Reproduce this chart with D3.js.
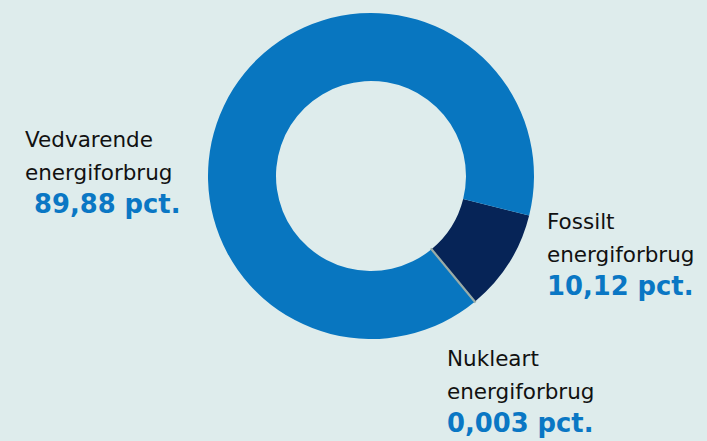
<!DOCTYPE html>
<html>
<head>
<meta charset="utf-8">
<script src="https://cdn.jsdelivr.net/npm/d3@7"></script>
<style>
  html, body { margin: 0; padding: 0; background: #deecec; }
  svg { display: block; }
</style>
</head>
<body>
<div id="chart"></div>
<script>
// Data
const categories = ["Fossilt energiforbrug", "Nukleart energiforbrug", "Vedvarende energiforbrug"];
const labelLines = [["Fossilt", "energiforbrug"], ["Nukleart", "energiforbrug"], ["Vedvarende", "energiforbrug"]];
const values = [10.12, 0.003, 89.88];
const valueLabels = ["10,12 pct.", "0,003 pct.", "89,88 pct."];
const colors = ["#062457", "#9aaca7", "#0876c0"];

const width = 707;
const height = 441;
const cx = 371;
const cy = 176;
const outerRadius = 163;
const innerRadius = 95;

const svg = d3.create("svg")
    .attr("width", width)
    .attr("height", height);

svg.append("rect")
    .attr("width", width)
    .attr("height", height)
    .attr("fill", "#deecec");

// Pie, starting at the fossil slice on the right
const pie = d3.pie()
    .sort(null)
    .value(d => d)
    .startAngle(104 * Math.PI / 180)
    .endAngle(104 * Math.PI / 180 + 2 * Math.PI);

const arc = d3.arc()
    .innerRadius(innerRadius)
    .outerRadius(outerRadius);

const arcs = pie(values);

const g = svg.append("g")
    .attr("transform", `translate(${cx},${cy})`);

// Big slices first, the tiny nuclear one on top so its stroke shows
g.selectAll("path")
    .data(arcs.map((a, i) => ({ a, i })).sort((p, q) => (p.i === 1) - (q.i === 1)))
    .enter()
    .append("path")
    .attr("d", d => arc(d.a))
    .attr("fill", d => colors[d.i])
    .attr("stroke", d => d.i === 1 ? colors[1] : "none")
    .attr("stroke-width", 2.2);

// Labels
const labelPos = [
    { x: 547, y: 229, vx: 547 },
    { x: 447, y: 366, vx: 447 },
    { x: 25, y: 147, vx: 34 }
];

categories.forEach((c, i) => {
    const p = labelPos[i];
    const t = svg.append("text")
        .attr("font-family", "'DejaVu Sans', sans-serif")
        .attr("font-size", 21.5)
        .attr("fill", "#111111");
    labelLines[i].forEach((line, j) => {
        t.append("tspan")
            .attr("x", p.x)
            .attr("y", p.y + j * 33)
            .text(line);
    });
    svg.append("text")
        .attr("x", p.vx)
        .attr("y", p.y + 66)
        .attr("font-family", "'DejaVu Sans', sans-serif")
        .attr("font-size", 25.8)
        .attr("font-weight", "bold")
        .attr("fill", "#0a77c4")
        .text(valueLabels[i]);
});

document.getElementById("chart").appendChild(svg.node());
</script>
</body>
</html>
